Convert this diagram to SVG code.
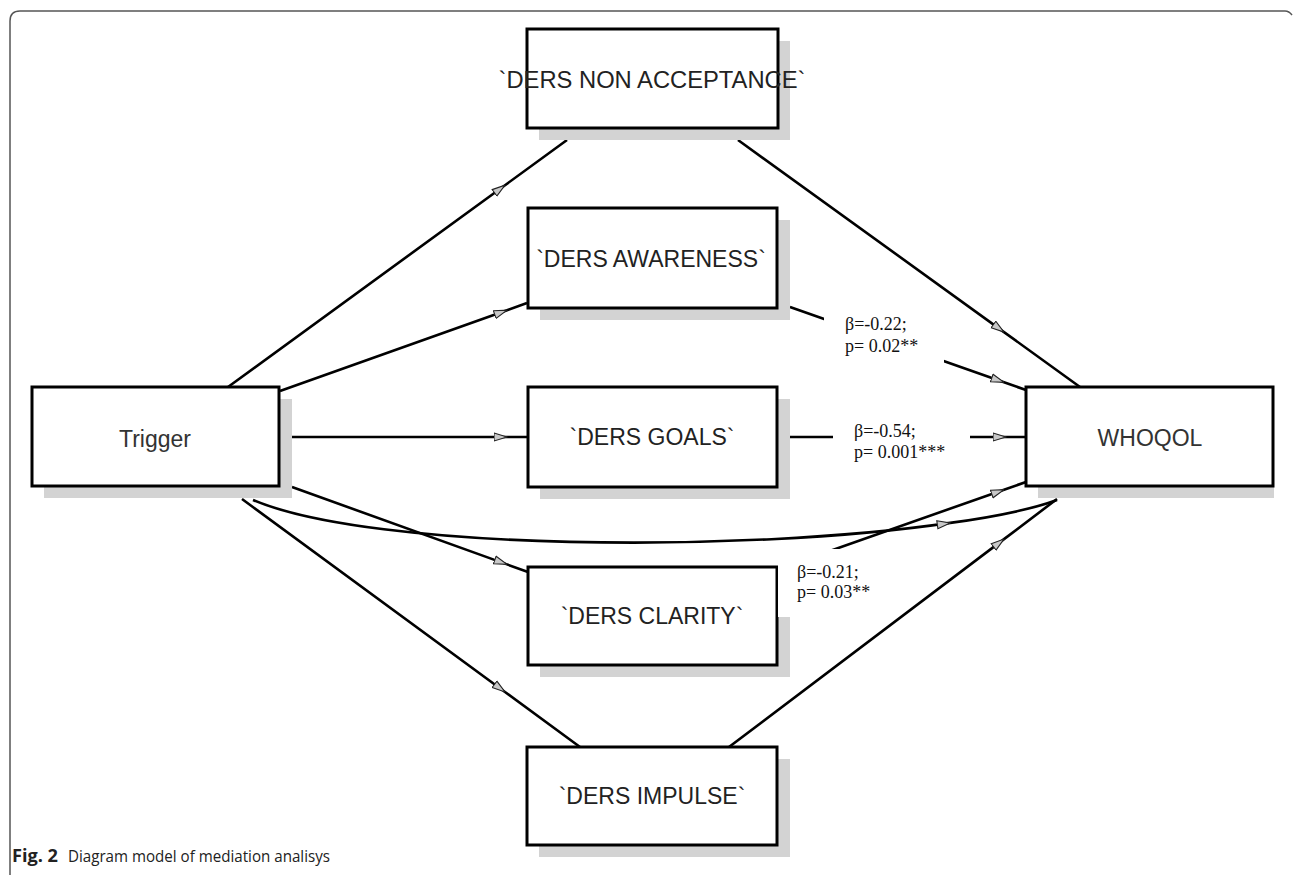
<svg xmlns="http://www.w3.org/2000/svg" width="1293" height="896" viewBox="0 0 1293 896">
<style>
.shadow{fill:#d3d3d3;stroke:none}
.box{fill:#fff;stroke:#000;stroke-width:3}
.ntext{font-family:"Liberation Sans",Arial,sans-serif;font-size:23px;fill:#222;text-anchor:middle}
.conn{fill:none;stroke:#000;stroke-width:2.6}
.arr{marker-mid:url(#ah)}
.lbl{font-family:"Liberation Serif","Times New Roman",serif;font-size:18px;fill:#111}
.lblbg{fill:#fff;stroke:none}
.frame{fill:none;stroke:#555;stroke-width:1.5}
.cap{font-family:"Open Sans",sans-serif;font-size:17px;fill:#222}
</style>
<defs>
<marker id="ah" viewBox="0 0 14 10" refX="13.5" refY="5" markerWidth="14" markerHeight="10" markerUnits="userSpaceOnUse" orient="auto">
<path d="M0.5,1 L13.5,5 L0.5,9 Z" fill="#c8c8c8" stroke="#222" stroke-width="1.1"/>
</marker>
</defs>
<rect width="1293" height="896" fill="#fff"/>
<path class="frame" d="M10,875 L10,21 Q10,11 20,11 L1285,11 Q1289,11 1292,15"/>

<g id="connectors">
<path class="conn arr" d="M228,387 L505,185.2 L567,140"/>
<path class="conn arr" d="M280,391 L507,310.2 L527,303"/>
<path class="conn arr" d="M292,437 L507,437 L528,437"/>
<path class="conn arr" d="M292,487 L507,564.4 L528,572"/>
<path class="conn arr" d="M242,499 L505,692 L580,747"/>
<path class="conn arr" d="M253,500 C373.5,551 744.9,553 950.2,522.9 C995.3,516.7 1032.3,509 1057,500"/>
<path class="conn arr" d="M738,140 L1004,332.1 L1080,387"/>
<path class="conn arr" d="M790,307 L1004,382.3 L1026,390"/>
<path class="conn arr" d="M790,437 L1006,437 L1026,437"/>
<path class="conn arr" d="M790,565 L1004,489.7 L1026,482"/>
<path class="conn arr" d="M729,747 L1004,539.1 L1057,499"/>
</g>

<g id="node-nonacceptance">
<rect class="shadow" x="539" y="41" width="251" height="99"/>
<rect class="box" x="527" y="29" width="251" height="99"/>
<text class="ntext" x="652" y="88" textLength="307" lengthAdjust="spacingAndGlyphs">`DERS NON ACCEPTANCE`</text>
</g>
<g id="node-awareness">
<rect class="shadow" x="540" y="220" width="250" height="100"/>
<rect class="box" x="528" y="208" width="249" height="100"/>
<text class="ntext" x="651" y="267">`DERS AWARENESS`</text>
</g>
<g id="node-goals">
<rect class="shadow" x="540" y="399" width="250" height="100"/>
<rect class="box" x="528" y="387" width="249" height="100"/>
<text class="ntext" x="652" y="445">`DERS GOALS`</text>
</g>
<g id="node-clarity">
<rect class="shadow" x="540" y="579" width="250" height="98"/>
<rect class="box" x="528" y="567" width="249" height="98"/>
<text class="ntext" x="652" y="624">`DERS CLARITY`</text>
</g>
<g id="node-impulse">
<rect class="shadow" x="539" y="759" width="251" height="98"/>
<rect class="box" x="527" y="747" width="250" height="98"/>
<text class="ntext" x="652" y="804">`DERS IMPULSE`</text>
</g>
<g id="node-trigger">
<rect class="shadow" x="44" y="399" width="248" height="99"/>
<rect class="box" x="32" y="387" width="247" height="99"/>
<text class="ntext" x="155" y="447" style="fill:#333">Trigger</text>
</g>
<g id="node-whoqol">
<rect class="shadow" x="1038" y="399" width="236" height="99"/>
<rect class="box" x="1026" y="387" width="247" height="99"/>
<text class="ntext" x="1150" y="446" style="fill:#333">WHOQOL</text>
</g>

<g id="labels">
<rect class="lblbg" x="824" y="316" width="120" height="48"/>
<text class="lbl" x="845" y="330">β=-0.22;</text>
<text class="lbl" x="845" y="352">p= 0.02**</text>
<rect class="lblbg" x="833" y="420" width="137" height="46"/>
<text class="lbl" x="854" y="437">β=-0.54;</text>
<text class="lbl" x="854" y="458">p= 0.001***</text>
<rect class="lblbg" x="778" y="549" width="97" height="68"/>
<text class="lbl" x="797" y="578">β=-0.21;</text>
<text class="lbl" x="797" y="598">p= 0.03**</text>
</g>

<text class="cap" x="12" y="862"><tspan font-weight="bold" textLength="46" lengthAdjust="spacingAndGlyphs">Fig. 2</tspan><tspan x="68" textLength="262" lengthAdjust="spacingAndGlyphs">Diagram model of mediation analisys</tspan></text>
</svg>
